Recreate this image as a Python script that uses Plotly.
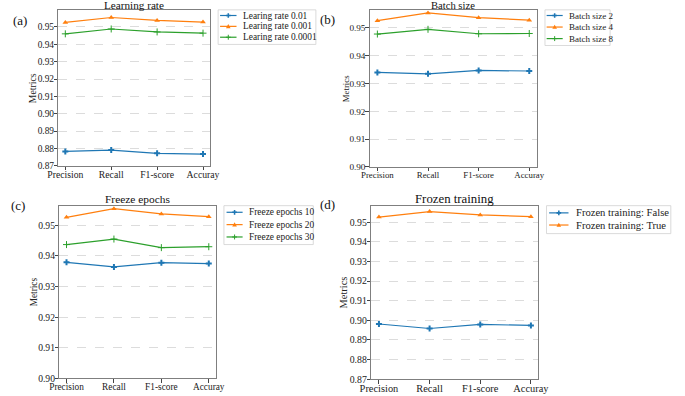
import plotly.graph_objects as go

categories = ["Precision", "Recall", "F1-score", "Accuray"]

# (a) Learning rate
lr_0_01 = [0.8783, 0.8791, 0.8772, 0.8768]
lr_0_001 = [0.9526, 0.9554, 0.9537, 0.9528]
lr_0_0001 = [0.9460, 0.9488, 0.9471, 0.9464]

# (b) Batch size
bs_2 = [0.9340, 0.9335, 0.9347, 0.9345]
bs_4 = [0.9526, 0.9554, 0.9537, 0.9528]
bs_8 = [0.9478, 0.9495, 0.9479, 0.9480]

# (c) Freeze epochs
fe_10 = [0.9379, 0.9364, 0.9378, 0.9375]
fe_20 = [0.9526, 0.9554, 0.9537, 0.9528]
fe_30 = [0.9437, 0.9455, 0.9427, 0.9430]

# (d) Frozen training
ft_false = [0.8981, 0.8958, 0.8979, 0.8974]
ft_true = [0.9526, 0.9554, 0.9537, 0.9528]

titles = ["Learning rate", "Batch size", "Freeze epochs", "Frozen training"]
panel_labels = ["(a)", "(b)", "(c)", "(d)"]
yticks_a = [0.87, 0.88, 0.89, 0.90, 0.91, 0.92, 0.93, 0.94, 0.95]
yticks_b = [0.90, 0.91, 0.92, 0.93, 0.94, 0.95]

W, H = 685, 396
FONT = "'Liberation Serif', 'Times New Roman', Times, serif"
BLUE, ORANGE, GREEN = "#1f77b4", "#ff7f0e", "#2ca02c"
COLORS = [BLUE, ORANGE, GREEN]

panels = [
    dict(series=[("Learing rate 0.01", lr_0_01), ("Learing rate 0.001", lr_0_001),
                 ("Learing rate 0.0001", lr_0_0001)],
         box=(49, 205.5, 10, 168), yrange=[0.87, 0.9598], yticks=yticks_a,
         plabel=(9.5, 21), title_y=5.5, ylab_x=23,
         fs=dict(tick=9.7, ytick=9.4, title=11.2, leg=9.4),
         leg=dict(left=214, right=315, top=10, first=5.7, sp=11, last=7.3,
                  l0=2, l1=19, tx=24)),
    dict(series=[("Batch size 2", bs_2), ("Batch size 4", bs_4), ("Batch size 8", bs_8)],
         box=(370.7, 543.3, 10, 169), yrange=[0.90, 0.9565], yticks=yticks_b,
         plabel=(326.5, 20), title_y=5.5, ylab_x=346,
         fs=dict(tick=8.8, ytick=9.2, title=10.6, leg=9.0),
         leg=dict(left=551.7, right=619, top=10, first=5.7, sp=11.7, last=7,
                  l0=1.7, l1=18.3, tx=22.7)),
    dict(series=[("Freeze epochs 10", fe_10), ("Freeze epochs 20", fe_20),
                 ("Freeze epochs 30", fe_30)],
         box=(50, 211.7, 208.3, 383.3), yrange=[0.90, 0.9564], yticks=yticks_b,
         plabel=(7.5, 208), title_y=201.7, ylab_x=24,
         fs=dict(tick=9.3, ytick=9.6, title=11.4, leg=9.4),
         leg=dict(left=220, right=312.3, top=208.3, first=6.7, sp=12.5, last=7.7,
                  l0=2.7, l1=19.3, tx=24.3)),
    dict(series=[("Frozen training: False", ft_false), ("Frozen training: True", ft_true)],
         box=(372.3, 545, 208.3, 384), yrange=[0.87, 0.9584], yticks=yticks_a,
         plabel=(327, 207), title_y=202, ylab_x=343,
         fs=dict(tick=10.4, ytick=9.8, title=12.8, leg=10.6),
         leg=dict(left=553.3, right=681.7, top=208.3, first=7.3, sp=12.3, last=8.7,
                  l0=2.7, l1=22.7, tx=28.3)),
]

trace_styles = [
    dict(symbol="cross", size=5, line=dict(width=0)),
    dict(symbol="triangle-up", size=5, line=dict(width=0)),
    dict(symbol="cross-thin", size=5, line=dict(width=1, color=GREEN)),
]


def P(x, y):
    return x / W, 1 - y / H


def path(points):
    s = ""
    for k, (x, y) in enumerate(points):
        px, py = P(x, y)
        s += ("M" if k == 0 else "L") + f"{px:.5f},{py:.5f} "
    return s + "Z"


def legend_marker(kind, cx, cy, color):
    if kind == 0:  # thick plus
        h, t = 2.4, 0.8
        pts = [(cx - t, cy - h), (cx + t, cy - h), (cx + t, cy - t), (cx + h, cy - t),
               (cx + h, cy + t), (cx + t, cy + t), (cx + t, cy + h), (cx - t, cy + h),
               (cx - t, cy + t), (cx - h, cy + t), (cx - h, cy - t), (cx - t, cy - t)]
        return [dict(type="path", xref="paper", yref="paper", path=path(pts),
                     fillcolor=color, line=dict(width=0), layer="above")]
    if kind == 1:  # triangle
        pts = [(cx, cy - 2.4), (cx + 2.4, cy + 1.8), (cx - 2.4, cy + 1.8)]
        return [dict(type="path", xref="paper", yref="paper", path=path(pts),
                     fillcolor=color, line=dict(width=0), layer="above")]
    out = []
    for (xa, ya, xb, yb) in [(cx - 2.5, cy, cx + 2.5, cy), (cx, cy - 2.5, cx, cy + 2.5)]:
        a, b = P(xa, ya), P(xb, yb)
        out.append(dict(type="line", xref="paper", yref="paper", x0=a[0], y0=a[1],
                        x1=b[0], y1=b[1], line=dict(color=color, width=1), layer="above"))
    return out


fig = go.Figure()
layout = dict(
    width=W, height=H, margin=dict(l=0, r=0, t=0, b=0),
    paper_bgcolor="white", plot_bgcolor="white",
    font=dict(family=FONT, size=10, color="#222"),
    annotations=[], shapes=[], showlegend=False,
)

for i, p in enumerate(panels):
    n = i + 1
    ax = "" if n == 1 else str(n)
    x0, x1, yt, yb = p["box"]
    fs = p["fs"]
    for j, (name, vals) in enumerate(p["series"]):
        st = trace_styles[j]
        fig.add_trace(go.Scatter(
            x=categories, y=vals, name=name, mode="lines+markers",
            line=dict(color=COLORS[j], width=1.2),
            marker=dict(symbol=st["symbol"], size=st["size"], color=COLORS[j],
                        line=st["line"]),
            xaxis="x" + ax, yaxis="y" + ax,
        ))
    layout["xaxis" + ax] = dict(
        domain=[x0 / W, x1 / W], anchor="y" + ax, type="category",
        range=[-0.15, 3.15], showgrid=False, zeroline=False,
        showline=True, mirror=True, linecolor="#7f7f7f", linewidth=1,
        ticks="outside", ticklen=3.5, tickcolor="#444", tickwidth=0.8,
        ticklabelstandoff=-4,
        tickfont=dict(family=FONT, size=fs["tick"], color="#222"),
    )
    layout["yaxis" + ax] = dict(
        domain=[1 - yb / H, 1 - yt / H], anchor="x" + ax,
        range=p["yrange"], tickvals=p["yticks"], tickformat=".2f",
        showgrid=True, gridcolor="#dcdcdc", griddash="dash", gridwidth=0.8,
        zeroline=False, showline=True, mirror=True, linecolor="#7f7f7f",
        linewidth=1, ticks="outside", ticklen=3.5, tickcolor="#444", tickwidth=0.8,
        ticklabelstandoff=-2,
        tickfont=dict(family=FONT, size=fs["ytick"], color="#222"),
    )
    tx, ty = P((x0 + x1) / 2, p["title_y"])
    layout["annotations"].append(dict(
        text=titles[i], xref="paper", yref="paper", x=tx, y=ty,
        xanchor="center", yanchor="middle", showarrow=False,
        font=dict(family=FONT, size=fs["title"], color="#111"),
    ))
    mx, my = P(p["ylab_x"], (yt + yb) / 2)
    layout["annotations"].append(dict(
        text="Metrics", xref="paper", yref="paper", x=mx, y=my, textangle=-90,
        xanchor="center", yanchor="middle", showarrow=False,
        font=dict(family=FONT, size=fs["tick"], color="#222"),
    ))
    px, py = P(*p["plabel"])
    layout["annotations"].append(dict(
        text=panel_labels[i], xref="paper", yref="paper",
        x=px, y=py, xanchor="center", yanchor="middle",
        showarrow=False, font=dict(family=FONT, size=13, color="#111"),
    ))
    lg = p["leg"]
    nser = len(p["series"])
    bottom = lg["top"] + lg["first"] + (nser - 1) * lg["sp"] + lg["last"]
    a, b = P(lg["left"], lg["top"]), P(lg["right"], bottom)
    layout["shapes"].append(dict(
        type="rect", xref="paper", yref="paper", x0=a[0], y0=b[1], x1=b[0], y1=a[1],
        line=dict(color="#d0d0d0", width=0.8), fillcolor="white", layer="above",
    ))
    for j, (name, vals) in enumerate(p["series"]):
        ry = lg["top"] + lg["first"] + j * lg["sp"]
        la, lb = P(lg["left"] + lg["l0"], ry), P(lg["left"] + lg["l1"], ry)
        layout["shapes"].append(dict(
            type="line", xref="paper", yref="paper", x0=la[0], y0=la[1], x1=lb[0], y1=lb[1],
            line=dict(color=COLORS[j], width=1.2), layer="above",
        ))
        cx = lg["left"] + (lg["l0"] + lg["l1"]) / 2
        layout["shapes"].extend(legend_marker(j, cx, ry, COLORS[j]))
        ta = P(lg["left"] + lg["tx"], ry)
        layout["annotations"].append(dict(
            text=name, xref="paper", yref="paper", x=ta[0], y=ta[1],
            xanchor="left", yanchor="middle", showarrow=False,
            font=dict(family=FONT, size=fs["leg"], color="#222"),
        ))

fig.update_layout(**layout)
fig.write_html("out.html", config={"displayModeBar": False},
               post_script="document.body.style.margin='0';document.body.style.overflow='hidden';")
